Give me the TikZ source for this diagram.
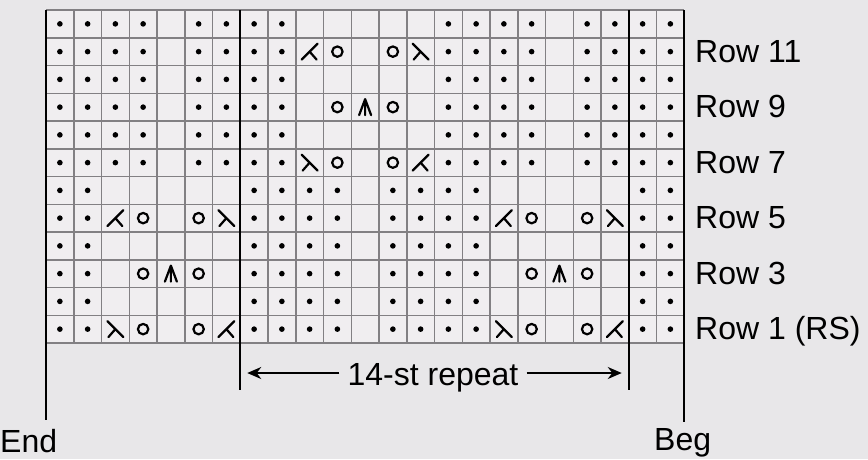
\documentclass[tikz,border=0pt]{standalone}
\usepackage{fontspec}
\setmainfont{Liberation Sans}
\usetikzlibrary{arrows.meta}
\definecolor{bg}{RGB}{232,231,233}
\definecolor{cellbg}{RGB}{240,238,240}
\definecolor{gridc}{RGB}{130,128,131}
\tikzset{
  gridline/.style={draw=gridc,line width=1.5pt},
  border/.style={draw=black,line width=2.4pt},
  symline/.style={draw=black,line width=2.2pt,line cap=round,line join=round},
  lab/.style={font=\fontsize{32}{34}\selectfont,inner sep=0pt},
  arr/.style={draw=black,line width=1.9pt,-{Stealth[length=14pt,width=12pt]}}
}
\newcommand\kD[1]{\fill[black] (#1) circle[radius=2.8];}
\newcommand\kB[1]{}
\newcommand\kO[1]{\draw[symline] (#1) circle[radius=5.2];}
\newcommand\kL[1]{\draw[symline,shift={(#1)}] (-8,-8) -- (8,8) (0,0) -- (-7,8);}
\newcommand\kM[1]{\draw[symline,shift={(#1)}] (8,-8) -- (-8,8) (0,0) -- (7,8);}
\newcommand\kA[1]{\draw[symline,shift={(#1)}] (-6,8) -- (0,-8) -- (6,8) (0,-8) -- (0,8);}
\begin{document}
\begin{tikzpicture}[x=1pt,y=-1pt]
\useasboundingbox[fill=bg] (0,0) rectangle (868,459);
\def\xo{46}\def\yo{10}\def\cw{27.75}
\fill[cellbg] (\xo,\yo) rectangle (\xo+23*\cw,\yo+12*\cw);
\foreach \i in {0,...,23} \draw[gridline] (\xo+\i*\cw,\yo) -- (\xo+\i*\cw,\yo+12*\cw);
\foreach \j in {0,...,12} \draw[gridline] (\xo,\yo+\j*\cw) -- (\xo+23*\cw,\yo+\j*\cw);
\foreach \rw/\lst in {
 12/{D,D,D,D,B,D,D,D,D,B,B,B,B,B,D,D,D,D,B,D,D,D,D},
 11/{D,D,D,D,B,D,D,D,D,M,O,B,O,L,D,D,D,D,B,D,D,D,D},
 10/{D,D,D,D,B,D,D,D,D,B,B,B,B,B,D,D,D,D,B,D,D,D,D},
 9/{D,D,D,D,B,D,D,D,D,B,O,A,O,B,D,D,D,D,B,D,D,D,D},
 8/{D,D,D,D,B,D,D,D,D,B,B,B,B,B,D,D,D,D,B,D,D,D,D},
 7/{D,D,D,D,B,D,D,D,D,L,O,B,O,M,D,D,D,D,B,D,D,D,D},
 6/{D,D,B,B,B,B,B,D,D,D,D,B,D,D,D,D,B,B,B,B,B,D,D},
 5/{D,D,M,O,B,O,L,D,D,D,D,B,D,D,D,D,M,O,B,O,L,D,D},
 4/{D,D,B,B,B,B,B,D,D,D,D,B,D,D,D,D,B,B,B,B,B,D,D},
 3/{D,D,B,O,A,O,B,D,D,D,D,B,D,D,D,D,B,O,A,O,B,D,D},
 2/{D,D,B,B,B,B,B,D,D,D,D,B,D,D,D,D,B,B,B,B,B,D,D},
 1/{D,D,L,O,B,O,M,D,D,D,D,B,D,D,D,D,L,O,B,O,M,D,D}}{
  \foreach \t [count=\c] in \lst {
    \pgfmathsetmacro\px{\xo+(\c-0.5)*\cw}
    \pgfmathsetmacro\py{\yo+(12.5-\rw)*\cw}
    \csname k\t\endcsname{\px,\py}
  }
}
% long vertical lines
\coordinate (endtop) at (\xo,\yo);
\coordinate (endbot) at (\xo,420);
\coordinate (reptopL) at (\xo+7*\cw,\yo);
\coordinate (repbotL) at (\xo+7*\cw,390);
\coordinate (reptopR) at (\xo+21*\cw,\yo);
\coordinate (repbotR) at (\xo+21*\cw,390);
\coordinate (begtop) at (\xo+23*\cw,\yo);
\coordinate (begbot) at (\xo+23*\cw,422);
\draw[border] (endtop) -- (endbot);
\draw[border] (reptopL) -- (repbotL);
\draw[border] (reptopR) -- (repbotR);
\draw[border] (begtop) -- (begbot);
% row labels
\foreach \rw/\txt in {11/Row 11,9/Row 9,7/Row 7,5/Row 5,3/Row 3,1/Row 1 (RS)}{
  \pgfmathsetmacro\py{\yo+(12.5-\rw)*\cw+10.5}
  \node[lab,anchor=base west] (row\rw) at (695,\py) {\txt};
}
% repeat arrow
\node[lab,anchor=base] (rep) at (433,385) {14-st repeat};
\coordinate (arrL) at (\xo+7*\cw+7,373);
\coordinate (arrR) at (\xo+21*\cw-7,373);
\draw[arr] (rep.west |- arrL) ++(-8,0) -- (arrL);
\draw[arr] (rep.east |- arrR) ++(8,0) -- (arrR);
\node[lab,anchor=base west] (endlab) at (0,452) {End};
\node[lab,anchor=base west] (beglab) at (654,450) {Beg};
\end{tikzpicture}
\end{document}
